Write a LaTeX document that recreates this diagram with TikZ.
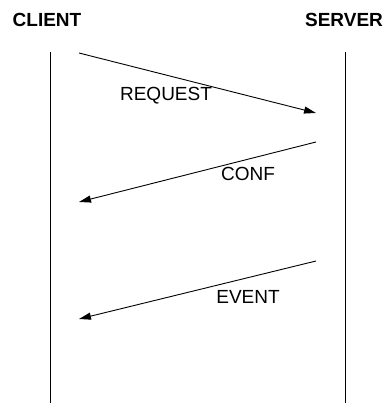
\documentclass[tikz,border=0pt]{standalone}
\usepackage{fontspec}
\setmainfont{Liberation Sans}
\usetikzlibrary{arrows.meta}

\tikzstyle{seqfig}=[x=1pt,y=-1pt]
\tikzstyle{actor}=[font=\fontsize{19}{22}\selectfont\bfseries,inner sep=0pt]
\tikzstyle{msg}=[line width=0.9pt,-{Triangle[length=12pt,width=7pt]}]
\tikzstyle{msglabel}=[font=\fontsize{19}{22}\selectfont,inner sep=0pt]

\begin{document}
\begin{tikzpicture}[style=seqfig]
\useasboundingbox (0,0) rectangle (386,403);
\node[actor] (client) at (47,20) {CLIENT};
\node[actor] (server) at (344,20) {SERVER};

\coordinate (cTop) at (50,52);
\coordinate (cBot) at (50,403);
\coordinate (sTop) at (345,52);
\coordinate (sBot) at (345,403);
\draw[line width=0.9pt] (cTop) -- (cBot);
\draw[line width=0.9pt] (sTop) -- (sBot);

\coordinate (reqA) at (79,53);
\coordinate (reqB) at (316,113);
\coordinate (confA) at (316,142);
\coordinate (confB) at (79,202);
\coordinate (evA) at (316,261);
\coordinate (evB) at (79,319);

\draw[msg] (reqA) -- (reqB);
\draw[msg] (confA) -- (confB);
\draw[msg] (evA) -- (evB);
\node[msglabel] (req) at (166,96) {REQUEST};
\node[msglabel] (conf) at (248,174) {CONF};
\node[msglabel] (ev) at (248,297) {EVENT};
\end{tikzpicture}
\end{document}
